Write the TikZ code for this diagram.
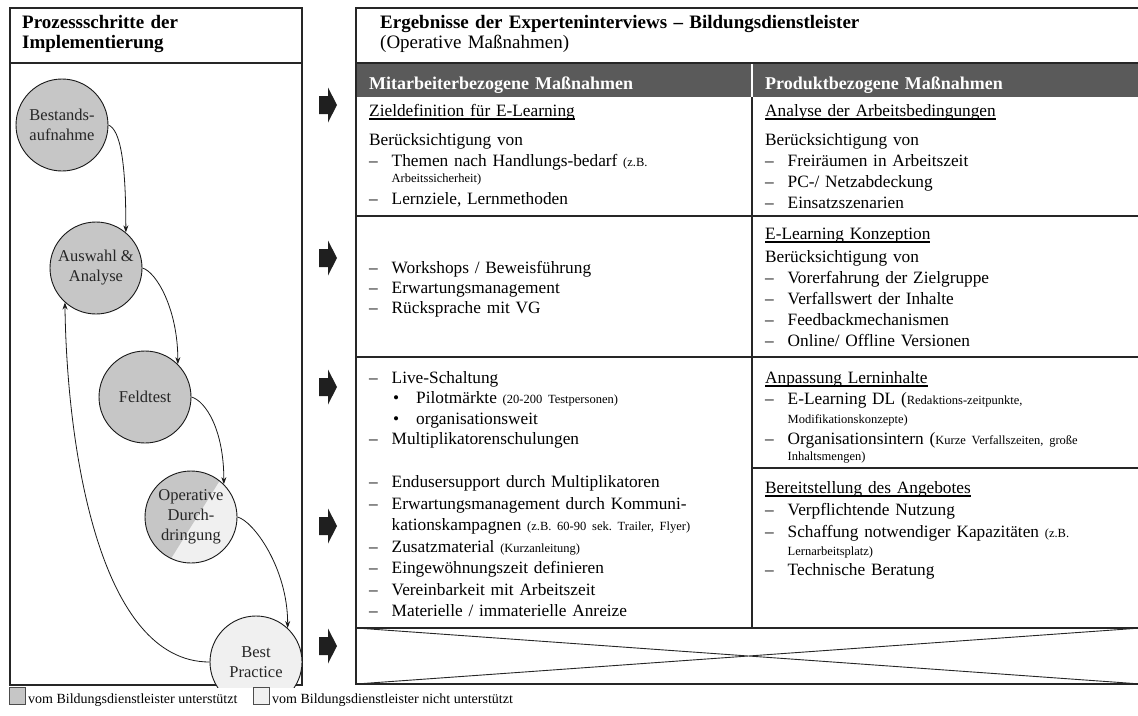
\documentclass[tikz,border=0pt]{standalone}
\usepackage{fontspec}
\setmainfont{Liberation Serif}
\usetikzlibrary{arrows.meta}

\definecolor{procgray}{HTML}{C6C6C6}
\definecolor{proclight}{HTML}{F0F0F0}
\definecolor{bargray}{HTML}{5A5A5A}

\newcommand\dashitem[1]{\makebox[22.5pt][l]{–}#1}
\newcommand\contitem[1]{\hspace*{22.5pt}#1}
\newcommand\bulitem[1]{\hspace*{24pt}\makebox[23pt][l]{•}#1}
\newcommand\smalltxt[1]{{\fontsize{12.5}{15}\selectfont #1}}
\newcommand\cellhead[1]{\setbox0\hbox{#1}\rlap{\rule[-3.5pt]{\wd0}{1.1pt}}\box0}

\tikzset{
  frame/.style={draw=black!85, line width=2pt},
  rowline/.style={draw=black!85, line width=1.8pt},
  proc/.style={circle, draw=black!90, line width=0.9pt, minimum size=92pt,
    inner sep=0pt, align=center, text=black!85,
    font=\fontsize{16.5}{20}\selectfont},
  cell/.style={anchor=base west, inner sep=0pt, text width=480pt, align=left,
    font=\fontsize{17.3}{21.2}\selectfont},
  hdr/.style={cell, font=\fontsize{19}{20}\selectfont\bfseries},
  barhdr/.style={cell, text=white, font=\fontsize{18}{20}\selectfont\bfseries},
  flow/.style={-{Stealth[length=7pt,width=5pt]}, line width=0.8pt, black!90},
  legbox/.style={draw=black!70, line width=0.6pt, minimum width=16pt,
    minimum height=17pt, inner sep=0pt},
  legtext/.style={anchor=base west, inner sep=0pt, font=\fontsize{14}{16}\selectfont}
}

\begin{document}
\frenchspacing
\begin{tikzpicture}[x=1pt,y=-1pt]
\useasboundingbox (0,0) rectangle (1138,715);

% Prozessschritte
\draw[frame] (10,8) rectangle (302,685);
\draw[line width=1.5pt, black!85] (10,63) -- (302,63);
\node[hdr] (prozess) at (22,28) {Prozessschritte der\\Implementierung};

% Ergebnisse
\fill[bargray] (356,63) rectangle (1141,97);
\draw[white, line width=1.2pt] (752,63) -- (752,97);
\draw[frame] (1141,8) -- (356,8) -- (356,684) -- (1141,684);
\draw[rowline] (356,63) -- (1141,63);
\draw[line width=1.2pt, black!85] (752,97) -- (752,628);
\draw[rowline] (356,216) -- (1141,216) (356,357) -- (1141,357)
  (752,468) -- (1141,468) (356,628) -- (1141,628);
\draw[line width=0.9pt, black!85] (356,628) -- (1141,684) (356,684) -- (1141,628);

\node[hdr] (ergebnis) at (380,28) {Ergebnisse der Experteninterviews – Bildungsdienstleister\\
  \mdseries(Operative Maßnahmen)};
\node[barhdr] (mitarb) at (369,89) {Mitarbeiterbezogene Maßnahmen};
\node[barhdr] (produkt) at (765,89) {Produktbezogene Maßnahmen};

\node[cell] (ziel) at (369,116) {\cellhead{Zieldefinition für E-Learning}\\[7.8pt]
  Berücksichtigung von\\
  \dashitem{Themen nach Handlungs-bedarf \smalltxt{(z.B.}}\\[-5.2pt]
  \contitem{\smalltxt{Arbeitssicherheit)}}\\[0.8pt]
  \dashitem{Lernziele, Lernmethoden}};
\node[cell] (analyse) at (765,116) {\cellhead{Analyse der Arbeitsbedingungen}\\[7.8pt]
  Berücksichtigung von\\
  \dashitem{Freiräumen in Arbeitszeit}\\
  \dashitem{PC-/ Netzabdeckung}\\
  \dashitem{Einsatzszenarien}};
\node[cell] (workshop) at (369,273) {\dashitem{Workshops / Beweisführung}\\[-1pt]
  \dashitem{Erwartungsmanagement}\\[-1pt]
  \dashitem{Rücksprache mit VG}};
\node[cell] (konzept) at (765,239) {\cellhead{E-Learning Konzeption}\\[1.8pt]
  Berücksichtigung von\\
  \dashitem{Vorerfahrung der Zielgruppe}\\
  \dashitem{Verfallswert der Inhalte}\\
  \dashitem{Feedbackmechanismen}\\
  \dashitem{Online/ Offline Versionen}};
\node[cell] (live) at (369,383) {\dashitem{Live-Schaltung}\\[-0.6pt]
  \bulitem{Pilotmärkte \smalltxt{(20-200 Testpersonen)}}\\[-0.6pt]
  \bulitem{organisationsweit}\\[-0.6pt]
  \dashitem{Multiplikatorenschulungen}\\[21.8pt]
  \dashitem{Endusersupport durch Multiplikatoren}\\[0.3pt]
  \dashitem{Erwartungsmanagement durch Kommuni-}\\[0.3pt]
  \contitem{kationskampagnen \smalltxt{(z.B. 60-90 sek. Trailer, Flyer)}}\\[0.3pt]
  \dashitem{Zusatzmaterial \smalltxt{(Kurzanleitung)}}\\[0.3pt]
  \dashitem{Eingewöhnungszeit definieren}\\[0.3pt]
  \dashitem{Vereinbarkeit mit Arbeitszeit}\\[0.3pt]
  \dashitem{Materielle / immaterielle Anreize}};
\node[cell] (anpass) at (765,383) {\cellhead{Anpassung Lerninhalte}\\
  \dashitem{E-Learning DL (\smalltxt{Redaktions-zeitpunkte,}}\\[-2.2pt]
  \contitem{\smalltxt{Modifikationskonzepte)}}\\[-0.2pt]
  \dashitem{Organisationsintern (\smalltxt{Kurze Verfallszeiten, große}}\\[-5.2pt]
  \contitem{\smalltxt{Inhaltsmengen)}}};
\node[cell] (bereit) at (765,493) {\cellhead{Bereitstellung des Angebotes}\\[0.8pt]
  \dashitem{Verpflichtende Nutzung}\\[0.8pt]
  \dashitem{Schaffung notwendiger Kapazitäten \smalltxt{(z.B.}}\\[-3.2pt]
  \contitem{\smalltxt{Lernarbeitsplatz)}}\\[-1.2pt]
  \dashitem{Technische Beratung}};

% Pfeile zwischen den Spalten
\foreach \y in {105,258,387,526,646}
  \fill[black!88] (319,\y-9) -- (328,\y-9) -- (328,\y-17.5) -- (337,\y)
    -- (328,\y+17.5) -- (328,\y+9) -- (319,\y+9) -- cycle;

% Prozesskreise
\node[proc, fill=procgray] (bestand) at (62,125) {Bestands-\\aufnahme};
\node[proc, fill=procgray] (auswahl) at (96,268) {Auswahl \&\\Analyse};
\node[proc, fill=procgray] (feldtest) at (145,397) {Feldtest};
\node[proc, fill=proclight, path picture={
    \fill[procgray] ([shift={(81,-120)}]path picture bounding box.center)
      -- ([shift={(-69,120)}]path picture bounding box.center)
      -- ([shift={(-120,120)}]path picture bounding box.center)
      -- ([shift={(-120,-120)}]path picture bounding box.center) -- cycle;}]
  (operativ) at (191,517) {Operative\\Durch-\\dringung};
\begin{scope}
  \clip (0,0) rectangle (1138,687);
  \node[proc, fill=proclight] (best) at (256,662) {Best\\Practice};
\end{scope}

\draw[flow] (bestand.east) .. controls +(12,5) and +(0,-70) .. (auswahl.50);
\draw[flow] (auswahl.east) .. controls +(14,4) and +(0,-55) .. (feldtest.45);
\draw[flow] (feldtest.east) .. controls +(14,4) and +(0,-55) .. (operativ.45);
\draw[flow] (operativ.east) .. controls +(16,4) and +(0,-60) .. (best.47);
\draw[flow] (best.west) .. controls +(-110,0) and +(2,147) .. (auswahl.228);

% Legende
\node[legbox, fill=procgray] (legsup) at (17.5,696) {};
\node[legtext] (legsuptext) at (28,703) {vom Bildungsdienstleister unterstützt};
\node[legbox, fill=proclight] (legnot) at (261,696) {};
\node[legtext] (legnottext) at (272,703) {vom Bildungsdienstleister nicht unterstützt};
\end{tikzpicture}
\end{document}
